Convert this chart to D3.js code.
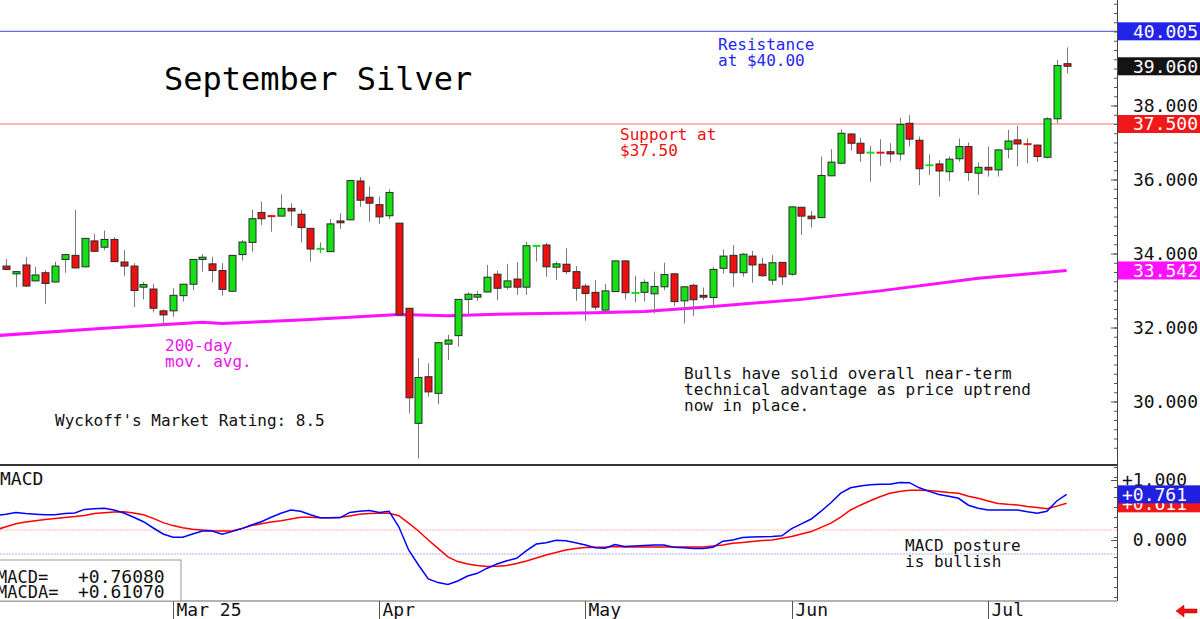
<!DOCTYPE html>
<html>
<head>
<meta charset="utf-8">
<script src="https://cdn.jsdelivr.net/npm/d3@7/dist/d3.min.js"></script>
<style>
  body { margin: 0; background: #fff; }
  svg text { font-family: "DejaVu Sans Mono", monospace; }
</style>
</head>
<body>
<svg id="chart" width="1200" height="619"></svg>
<script>
// daily OHLC, one entry per trading day (index 0 = first bar on the left)
const opens = [33.66,33.45,33.69,33.26,33.48,33.23,33.84,33.95,33.64,34.34,34.17,34.38,33.77,33.66,33.09,33.04,32.45,32.45,32.86,33.17,
  33.84,33.72,33.54,32.98,33.97,34.30,35.11,35.03,35.01,35.22,35.06,34.68,34.12,34.05,34.88,34.91,35.96,35.52,35.32,35.02,
  34.82,32.52,29.41,30.67,30.22,31.55,31.78,32.76,32.82,32.96,33.44,33.09,33.31,33.09,34.20,34.23,33.63,33.71,33.51,33.12,
  32.95,32.47,32.97,33.80,32.93,32.95,32.91,33.10,33.45,32.72,33.14,32.87,32.81,33.60,33.95,33.48,33.93,33.71,33.28,33.76,
  33.44,35.25,35.01,34.97,36.10,36.44,37.23,36.98,36.72,36.73,36.75,36.69,37.52,37.06,36.38,36.42,36.21,36.56,36.89,36.17,
  36.33,36.26,36.82,37.07,36.96,36.93,36.60,37.64,39.13];
const highs = [33.85,33.52,33.91,33.64,33.55,33.78,33.98,35.18,34.42,34.53,34.62,34.44,34.09,33.74,33.23,33.18,32.49,33.06,33.18,33.85,
  33.98,33.91,33.74,33.96,34.36,35.19,35.41,35.04,35.60,35.36,35.18,34.69,34.30,34.93,35.09,35.98,36.06,35.81,35.54,35.74,
  34.83,32.53,31.17,31.03,31.60,31.80,32.77,32.95,32.99,33.69,33.53,33.72,33.76,34.32,34.23,34.29,33.78,34.14,33.66,33.18,
  33.28,33.18,33.81,33.81,33.40,33.30,33.51,33.75,33.46,33.11,33.19,33.08,33.63,34.11,34.23,34.01,34.07,33.89,33.96,33.77,
  35.28,35.26,35.15,36.62,36.82,37.36,37.24,37.13,36.91,37.09,36.98,37.67,37.74,37.16,36.68,36.53,36.62,37.11,37.00,36.46,
  36.89,36.82,37.34,37.45,37.11,36.94,37.68,39.23,39.57];
const lows = [33.55,33.09,33.10,33.24,32.64,33.22,33.48,33.60,33.63,34.05,34.09,33.77,33.39,32.55,32.76,32.41,32.04,32.29,32.70,33.01,
  33.51,33.22,32.86,32.97,33.81,34.05,34.77,34.59,35.00,34.75,34.30,33.78,34.01,34.04,34.67,34.90,35.26,34.86,34.80,34.93,
  32.33,29.68,28.46,30.13,29.93,31.12,31.48,32.34,32.72,32.95,32.74,33.03,32.88,32.88,33.78,33.37,33.28,33.44,32.72,32.18,
  32.47,32.46,32.96,32.76,32.68,32.70,32.38,33.01,32.58,32.11,32.31,32.74,32.56,33.46,33.09,33.37,33.21,33.37,33.15,33.15,
  33.40,34.50,34.70,34.96,36.09,36.42,36.78,36.48,35.94,36.37,36.46,36.51,36.89,35.85,36.12,35.54,35.96,36.48,35.96,35.58,
  36.08,36.08,36.57,36.35,36.44,36.48,36.57,37.52,38.87];
const closes = [33.57,33.51,33.12,33.42,33.19,33.66,33.97,33.61,34.41,34.06,34.38,33.78,33.66,33.00,33.16,32.52,32.34,32.87,33.17,33.84,
  33.90,33.54,33.03,33.95,34.31,34.94,34.94,34.99,35.22,35.15,34.70,34.12,34.13,34.80,34.83,35.97,35.44,35.36,34.99,35.65,
  32.34,30.10,30.65,30.26,31.59,31.66,32.76,32.90,32.89,33.36,33.06,33.26,33.09,34.21,34.21,33.64,33.72,33.51,33.06,32.92,
  32.55,32.99,33.80,32.94,32.94,33.22,33.11,33.43,32.70,33.10,32.75,32.82,33.57,33.93,33.48,33.98,33.69,33.40,33.75,33.37,
  35.26,35.01,34.94,36.11,36.47,37.25,36.98,36.71,36.73,36.72,36.69,37.49,37.09,36.29,36.39,36.23,36.55,36.89,36.19,36.33,
  36.26,36.80,37.04,36.96,36.95,36.62,37.64,39.08,39.06];

// 200-day moving average, read at these bar indexes
const maIdx = [-1, 10, 20, 22, 30, 40, 45, 50, 60, 65, 71, 81, 89, 99, 108];
const ma200 = [31.78, 31.98, 32.14, 32.11, 32.20, 32.35, 32.32, 32.36, 32.40, 32.43, 32.55, 32.76, 32.99, 33.33, 33.542];

// MACD and its average, starting one bar before the first candle
const macdStart = -1;
const macd = [0.41,0.43,0.46,0.44,0.43,0.42,0.42,0.44,0.45,0.51,0.52,0.53,0.50,0.45,0.38,0.305,0.20,0.10,0.045,0.045,0.10,
  0.15,0.15,0.095,0.14,0.19,0.25,0.305,0.38,0.445,0.50,0.48,0.42,0.37,0.37,0.37,0.46,0.48,0.49,0.46,0.48,
  0.22,-0.167,-0.417,-0.65,-0.71,-0.74,-0.683,-0.60,-0.555,-0.47,-0.40,-0.345,-0.305,-0.178,-0.067,-0.045,-0.005,-0.012,-0.045,-0.083,
  -0.128,-0.138,-0.075,-0.11,-0.10,-0.09,-0.085,-0.085,-0.12,-0.13,-0.14,-0.14,-0.12,-0.02,0.0,0.04,0.05,0.055,0.06,0.07,
  0.19,0.27,0.35,0.48,0.62,0.78,0.87,0.90,0.92,0.93,0.93,0.96,0.955,0.87,0.81,0.76,0.73,0.695,0.58,0.53,
  0.50,0.50,0.50,0.50,0.47,0.445,0.48,0.65,0.761];
const macdAvg = [0.17,0.22,0.27,0.30,0.32,0.34,0.36,0.375,0.39,0.41,0.44,0.455,0.465,0.47,0.45,0.42,0.36,0.29,0.24,0.205,0.18,
  0.165,0.155,0.15,0.15,0.19,0.24,0.27,0.30,0.32,0.35,0.38,0.38,0.37,0.37,0.38,0.40,0.43,0.44,0.445,0.445,
  0.405,0.28,0.15,0.0,-0.14,-0.28,-0.36,-0.40,-0.425,-0.44,-0.437,-0.425,-0.39,-0.35,-0.30,-0.25,-0.21,-0.167,-0.14,-0.125,
  -0.12,-0.12,-0.11,-0.115,-0.115,-0.115,-0.115,-0.115,-0.115,-0.115,-0.115,-0.115,-0.10,-0.083,-0.055,-0.04,-0.025,-0.01,0.0,0.03,
  0.06,0.10,0.14,0.21,0.28,0.38,0.50,0.58,0.655,0.72,0.78,0.81,0.83,0.83,0.825,0.81,0.79,0.78,0.73,0.695,
  0.65,0.61,0.595,0.585,0.56,0.54,0.52,0.565,0.611];
const macdLevels = [0.167, -0.233];
const macdReadout = [0.76080, 0.61070];

const monthLabels = ["Mar 25", "Apr", "May", "Jun", "Jul"];
const monthIdx = [17, 38, 59, 80, 100];
const priceTicks = [30, 32, 34, 36, 38];
const macdTicks = [0, 1];
const macdTickLabels = ["0.000", "+1.000"];

const resistance = 40.005;
const support = 37.50;

const axisX = 1117, mainBottom = 465, macdBottom = 601;
const green = "#14e014", red = "#ec1010";

let svg = d3.select("#chart");
svg.append("rect").attr("width", 1200).attr("height", 619).attr("fill", "#fff");

let x = d3.scaleLinear().domain([0, 108]).range([6, 1066.6]);
let y = d3.scaleLinear().domain([30, 40]).range([401.5, 31.5]);
let ym = d3.scaleLinear().domain([0, 1]).range([540, 480]);

let defs = svg.append("defs");
defs.append("clipPath").attr("id", "clip-main").append("rect")
  .attr("x", 0).attr("y", 0).attr("width", axisX).attr("height", mainBottom);
defs.append("clipPath").attr("id", "clip-macd").append("rect")
  .attr("x", 0).attr("y", mainBottom).attr("width", axisX).attr("height", macdBottom - mainBottom);

let main = svg.append("g").attr("clip-path", "url(#clip-main)");
let lower = svg.append("g").attr("clip-path", "url(#clip-macd)");

// support / resistance
main.append("line").attr("x1", 0).attr("x2", axisX)
  .attr("y1", y(resistance)).attr("y2", y(resistance))
  .attr("stroke", "#6a6ae6").attr("stroke-width", 1.2);
main.append("line").attr("x1", 0).attr("x2", axisX)
  .attr("y1", y(support)).attr("y2", y(support))
  .attr("stroke", "#ffa0a0").attr("stroke-width", 1.6);

// 200 day average
let maLine = d3.line().x((d, k) => x(maIdx[k])).y(d => y(d));
main.append("path").datum(ma200).attr("d", maLine)
  .attr("fill", "none").attr("stroke", "#ff10ff").attr("stroke-width", 3);

// candles
let candles = opens.map((o, i) => ({i: i, o: o, h: highs[i], l: lows[i], c: closes[i]}));
let cg = main.selectAll("g.candle").data(candles).enter().append("g").attr("class", "candle");
cg.append("line")
  .attr("x1", d => Math.round(x(d.i)) + 0.5).attr("x2", d => Math.round(x(d.i)) + 0.5)
  .attr("y1", d => y(d.h)).attr("y2", d => y(d.l))
  .attr("stroke", "#7a7a7a").attr("stroke-width", 1);
cg.each(function(d) {
  let g = d3.select(this);
  let cx = Math.round(x(d.i)) + 0.5;
  let top = y(Math.max(d.o, d.c)), bot = y(Math.min(d.o, d.c));
  let col = d.c >= d.o ? green : red;
  if (bot - top < 1.5) {
    // doji: just a short coloured dash
    g.append("line").attr("x1", cx - 4).attr("x2", cx + 4)
      .attr("y1", (top + bot) / 2).attr("y2", (top + bot) / 2)
      .attr("stroke", col).attr("stroke-width", 2);
  } else {
    g.append("rect").attr("x", cx - 3.5).attr("y", top)
      .attr("width", 7).attr("height", bot - top)
      .attr("fill", col).attr("stroke", "#2a2a2a").attr("stroke-width", 1);
  }
});

// MACD panel
macdLevels.forEach((v, k) => {
  lower.append("line").attr("x1", 0).attr("x2", axisX).attr("y1", ym(v)).attr("y2", ym(v))
    .attr("stroke", k == 0 ? "#ffb0b0" : "#b0b0ff").attr("stroke-width", 1)
    .attr("stroke-dasharray", "2,1");
});
let mLine = d3.line().x((d, k) => x(k + macdStart)).y(d => ym(d));
lower.append("path").datum(macdAvg).attr("d", mLine)
  .attr("fill", "none").attr("stroke", "#ff0000").attr("stroke-width", 1.5);
lower.append("path").datum(macd).attr("d", mLine)
  .attr("fill", "none").attr("stroke", "#0000ff").attr("stroke-width", 1.5);

// panel frames
svg.append("line").attr("x1", 0).attr("x2", axisX).attr("y1", mainBottom).attr("y2", mainBottom)
  .attr("stroke", "#333").attr("stroke-width", 2);
svg.append("line").attr("x1", 0).attr("x2", axisX).attr("y1", macdBottom).attr("y2", macdBottom)
  .attr("stroke", "#666").attr("stroke-width", 1);
svg.append("line").attr("x1", axisX + 0.5).attr("x2", axisX + 0.5).attr("y1", 0).attr("y2", macdBottom)
  .attr("stroke", "#444").attr("stroke-width", 1);

// right axis, price
let priceAxis = svg.append("g").attr("transform", `translate(${axisX},0)`)
  .call(d3.axisRight(y).tickValues(priceTicks).tickFormat(d3.format(".3f")).tickSize(-6).tickPadding(0));
let minorAxis = svg.append("g").attr("transform", `translate(${axisX},0)`)
  .call(d3.axisRight(y).tickValues(d3.range(28.75, 40.9, 0.25)).tickFormat("").tickSize(-3));
let macdAxis = svg.append("g").attr("transform", `translate(${axisX},0)`)
  .call(d3.axisRight(ym).tickValues(macdTicks).tickFormat((d, k) => macdTickLabels[k]).tickSize(-6).tickPadding(0));
let macdMinor = svg.append("g").attr("transform", `translate(${axisX},0)`)
  .call(d3.axisRight(ym).tickValues(d3.range(-0.95, 1.3, 1 / 6)).tickFormat("").tickSize(-3));

[priceAxis, minorAxis, macdAxis, macdMinor].forEach(a => {
  a.select(".domain").remove();
  a.selectAll(".tick line").attr("stroke", "#555");
});
priceAxis.selectAll("text").attr("x", 81).attr("text-anchor", "end")
  .attr("font-size", 18).attr("fill", "#111");
macdAxis.selectAll("text").attr("x", 70).attr("text-anchor", "end")
  .attr("font-size", 18).attr("fill", "#111");

// value tags on the axis
function tag(yy, fill, label, right) {
  svg.append("rect").attr("x", axisX + 1).attr("y", yy - 9).attr("width", 1200 - axisX).attr("height", 18)
    .attr("fill", fill);
  svg.append("text").attr("x", right).attr("y", yy).attr("dy", "0.35em")
    .attr("text-anchor", "end").attr("font-size", 18).attr("fill", "#fff").text(label);
}
tag(y(resistance), "#2424e8", d3.format(".3f")(resistance), 1198);
tag(y(closes[closes.length - 1]), "#141414", d3.format(".3f")(closes[closes.length - 1]), 1198);
tag(y(support), "#f01818", d3.format(".3f")(support), 1198);
tag(y(ma200[ma200.length - 1]), "#ff10ff", d3.format(".3f")(ma200[ma200.length - 1]), 1198);
tag(ym(macdAvg[macdAvg.length - 1]), "#f01818", d3.format("+.3f")(macdAvg[macdAvg.length - 1]), 1187);
tag(ym(macd[macd.length - 1]), "#2020e0", d3.format("+.3f")(macd[macd.length - 1]), 1187);

// month labels along the bottom
monthIdx.forEach((mi, k) => {
  let mx = Math.round(x(mi)) + 0.5;
  svg.append("line").attr("x1", mx).attr("x2", mx).attr("y1", macdBottom).attr("y2", 619)
    .attr("stroke", "#555");
  svg.append("text").attr("x", mx + 3).attr("y", 616).attr("font-size", 18).attr("fill", "#111")
    .text(monthLabels[k]);
});

// little red arrow in the corner
svg.append("path").attr("d", "M1176,611 L1184,605 L1184,609 L1197,609 L1197,613 L1184,613 L1184,617 Z")
  .attr("fill", "#f01010").attr("stroke", "#a00").attr("stroke-width", 0.5);

// text annotations
function note(tx, ty, lines, color, size) {
  lines.forEach((s, k) => {
    svg.append("text").attr("x", tx).attr("y", ty + k * 16).attr("font-size", size || 16)
      .attr("fill", color).attr("xml:space", "preserve").text(s);
  });
}
note(164, 90, ["September Silver"], "#000", 32);
note(718, 50, ["Resistance", "at $40.00"], "#2626f0");
note(620, 140, ["Support at", "$37.50"], "#f01010");
note(165, 351, ["200-day", "mov. avg."], "#f010f0");
note(55, 426, ["Wyckoff's Market Rating: 8.5"], "#111");
note(684, 379, ["Bulls have solid overall near-term", "technical advantage as price uptrend", "now in place."], "#111");
note(905, 551, ["MACD posture", "is bullish"], "#111");
note(0, 485, ["MACD"], "#111", 18);

// MACD readout box
svg.append("rect").attr("x", -1).attr("y", 560).attr("width", 182).attr("height", 41)
  .attr("fill", "#fff").attr("stroke", "#999");
note(-3, 583, ["MACD="], "#111", 17);
note(-3, 598, ["MACDA="], "#111", 17);
note(78, 583, [d3.format("+.5f")(macdReadout[0])], "#111", 18);
note(78, 598, [d3.format("+.5f")(macdReadout[1])], "#111", 18);
</script>
</body>
</html>
